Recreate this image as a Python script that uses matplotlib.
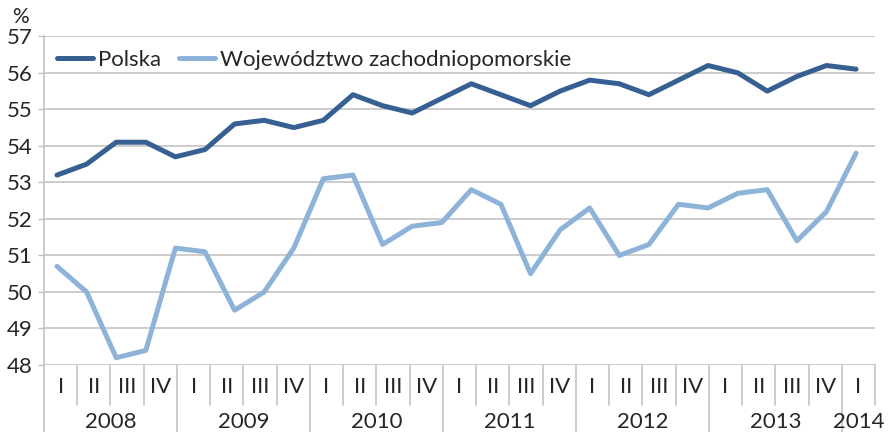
import matplotlib
matplotlib.use("Agg")
import matplotlib.pyplot as plt
import matplotlib.transforms as mtransforms
import numpy as np

plt.rcParams['font.family'] = ['Lato', 'DejaVu Sans']

# ---- data ----
years = ["2008", "2009", "2010", "2011", "2012", "2013", "2014"]
quarters_per_year = [4, 4, 4, 4, 4, 4, 1]
quarter_names = ["I", "II", "III", "IV"]

polska = [53.2, 53.5, 54.1, 54.1, 53.7, 53.9, 54.6, 54.7, 54.5, 54.7,
          55.4, 55.1, 54.9, 55.3, 55.7, 55.4, 55.1, 55.5, 55.8, 55.7,
          55.4, 55.8, 56.2, 56.0, 55.5, 55.9, 56.2, 56.1]
zachodniopomorskie = [50.7, 50.0, 48.2, 48.4, 51.2, 51.1, 49.5, 50.0, 51.2, 53.1,
                      53.2, 51.3, 51.8, 51.9, 52.8, 52.4, 50.5, 51.7, 52.3, 51.0,
                      51.3, 52.4, 52.3, 52.7, 52.8, 51.4, 52.2, 53.8]
series_names = ["Polska", "Województwo zachodniopomorskie"]
y_ticks = [48, 49, 50, 51, 52, 53, 54, 55, 56, 57]

# ---- style ----
c_dark = '#376092'
c_light = '#8DB3D9'
grid_c = '#BFBFBF'
text_c = '#262626'
W, H = 893, 432
fs = 16

fig = plt.figure(figsize=(W / 100, H / 100), dpi=100)
left, right, top, bottom = 44, 875, 36.3, 365
ax = fig.add_axes([left / W, 1 - bottom / H, (right - left) / W, (bottom - top) / H])

n_cat = sum(quarters_per_year)
ax.set_xlim(0, n_cat)
ax.set_ylim(min(y_ticks), max(y_ticks))
ax.set_yticks(y_ticks)
ax.set_yticklabels([str(t) for t in y_ticks], fontsize=fs, color=text_c)
ax.tick_params(axis='y', length=4, width=1, color=grid_c, pad=4)
ax.set_xticks([])
for t in y_ticks:
    ax.axhline(t, color=grid_c, lw=1.1, zorder=0)
for s in ['top', 'right', 'bottom']:
    ax.spines[s].set_visible(False)
ax.spines['left'].set_color(grid_c)
ax.spines['left'].set_linewidth(1.1)

# category axis with two levels
trans = mtransforms.blended_transform_factory(ax.transData, ax.transAxes)
ax_h = bottom - top
q_sep = -40 / ax_h
y_sep = -(H - bottom + 2) / ax_h
q_lab = -22 / ax_h
y_lab = -57 / ax_h
i = 0
for yr, nq in zip(years, quarters_per_year):
    for q in range(nq):
        ax.text(i + 0.5, q_lab, quarter_names[q], transform=trans, ha='center', va='center',
                fontsize=fs, color=text_c)
        if q > 0:
            ax.plot([i, i], [0, q_sep], transform=trans, color=grid_c, lw=1.1, clip_on=False)
        i += 1
    ax.text(i - nq / 2, y_lab, yr, transform=trans, ha='center', va='center',
            fontsize=fs, color=text_c)
    ax.plot([i - nq, i - nq], [0, y_sep], transform=trans, color=grid_c, lw=1.1, clip_on=False)
ax.plot([n_cat, n_cat], [0, q_sep], transform=trans, color=grid_c, lw=1.1, clip_on=False)

# lines on a secondary x scale
ax2 = ax.twiny()
ax2.set_xlim(-0.44, len(polska) - 1 + 0.64)
ax2.set_ylim(ax.get_ylim())
ax2.axis('off')
x = np.arange(len(polska))
l1, = ax2.plot(x, polska, color=c_dark, lw=3.6, solid_joinstyle='round', solid_capstyle='round')
l2, = ax2.plot(x, zachodniopomorskie, color=c_light, lw=3.6, solid_joinstyle='round', solid_capstyle='round')

leg = ax.legend([l1, l2], series_names, loc='upper left', bbox_to_anchor=(0.0, 1.0),
                ncol=2, frameon=False, fontsize=fs, handlelength=1.6, handletextpad=0.25,
                columnspacing=0.8, borderaxespad=0.2, borderpad=0.4)
for t in leg.get_texts():
    t.set_color(text_c)

fig.text(12 / W, 1 - 17 / H, '%', fontsize=fs - 1, color=text_c, va='center', ha='left')

fig.savefig('out.png', dpi=100, facecolor='white')
